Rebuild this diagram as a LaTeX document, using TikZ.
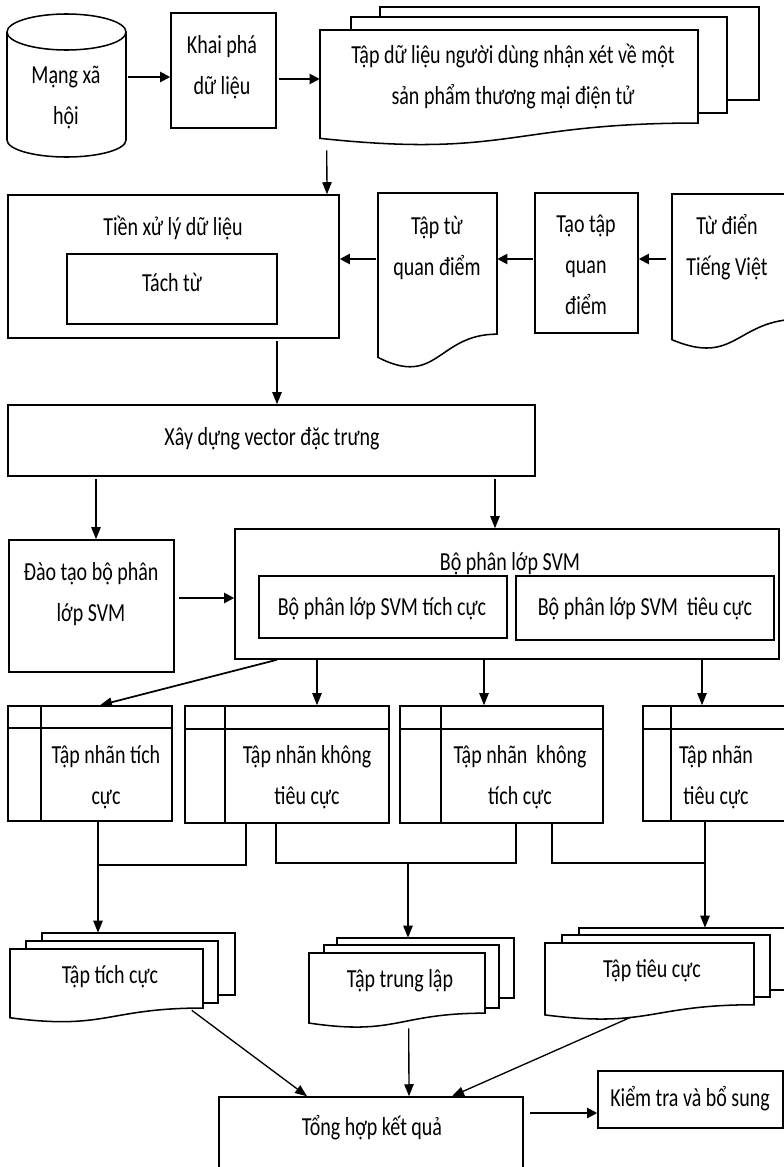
\documentclass[tikz,border=0pt]{standalone}
\usepackage{fontspec}
\setmainfont{Carlito}
\usepackage{graphicx}
\usetikzlibrary{arrows.meta,calc,fit}
\newcommand{\vt}[1]{\scalebox{1}[1.3]{\begin{tabular}{@{}c@{}}#1\end{tabular}}}
\newcommand{\docpath}[4]{(#1,#3) -- (#2,#3) -- (#2,{#3+0.802*#4}) .. controls ({(#1+#2)/2},{#3+0.802*#4}) and ({(#1+#2)/2},{#3+1.1075*#4}) .. (#1,{#3+0.934*#4}) -- cycle}
\tikzset{
 box/.style={draw, line width=1.15pt, fill=white, inner sep=0pt},
 ghost/.style={inner sep=0pt},
 shp/.style={draw, line width=1.15pt, fill=white},
 txt/.style={inner sep=0pt, font=\fontsize{15}{23.6}\selectfont},
 arr/.style={line width=1pt, -{Triangle[length=9pt,width=7pt]}},
 arrT/.style={line width=1.5pt, -{Triangle[length=7.5pt,width=7.5pt]}},
 ln/.style={line width=1pt},
}
\begin{document}
\begin{tikzpicture}[x=0.75pt,y=-0.75pt]
\useasboundingbox (0,0) rectangle (784,1167);
\clip (0,0) rectangle (784,1167);
\fill[white] (0,0) rectangle (784,1167);

% cylinder
\path[shp] (7,32) -- (7,140) arc[start angle=180, end angle=0, x radius=59.5, y radius=17] -- (126,32) arc[start angle=0, end angle=-180, x radius=59.5, y radius=18] -- cycle;
\draw[line width=1.15pt] (7,32) arc[start angle=180, end angle=0, x radius=59.5, y radius=18];
\node[ghost, fit={(7,14)(126,157)}] (db) {};

% top boxes
\node[box, fit={(171,13)(276,128)}] (khai) {};
\draw[shp] (380,7) rectangle (759,100);
\draw[shp] (351,17) rectangle (727,113);
\draw[shp] \docpath{320}{698}{30}{116};
\node[ghost, fit={(320,7)(759,140)}] (datadoc) {};

% second row
\node[box, fit={(8,195)(339,338)}] (tienxl) {};
\node[box, fit={(67,254)(277,324)}] (tachtu) {};
\draw[shp] \docpath{378}{497}{193}{176};
\node[ghost, fit={(378,193)(497,357)}] (taptu) {};
\node[box, fit={(535,193)(638,333)}] (taotap) {};
\draw[shp] \docpath{672}{800}{194}{156};
\node[ghost, fit={(672,194)(800,340)}] (tudien) {};

\node[box, fit={(8,405)(535,476)}] (xay) {};

\node[box, fit={(9,540)(174,672)}] (dao) {};
\node[box, fit={(235,529)(779,659)}] (svm) {};
\node[box, fit={(259,576)(507,638)}] (svm1) {};
\node[box, fit={(516,576)(774,640)}] (svm2) {};

% tables
\node[box, fit={(8,706)(172,821)}] (t1) {};
\draw[ln] (8,728) -- (172,728) (41,706) -- (41,821);
\node[box, fit={(185,706)(389,823)}] (t2) {};
\draw[ln] (185,729) -- (389,729) (225,706) -- (225,823);
\node[box, fit={(400,706)(603,823)}] (t3) {};
\draw[ln] (400,729) -- (603,729) (441,706) -- (441,823);
\node[box, fit={(643,706)(795,821)}] (t4) {};
\draw[ln] (643,729) -- (795,729) (671,706) -- (671,821);

% stacks
\draw[shp] (42,933) rectangle (235,995);
\draw[shp] (26,941) rectangle (218,1003);
\draw[shp] \docpath{10}{203}{949}{73.6};
\node[ghost, fit={(10,933)(235,1018)}] (s1) {};
\draw[shp] (337,938) rectangle (514,998);
\draw[shp] (324,945) rectangle (499,1008);
\draw[shp] \docpath{309}{485}{953}{75};
\node[ghost, fit={(309,938)(514,1023)}] (s2) {};
\draw[shp] (579,928) rectangle (795,990);
\draw[shp] (562,935) rectangle (770,997);
\draw[shp] \docpath{545}{754}{943}{77};
\node[ghost, fit={(545,928)(795,1015)}] (s3) {};

\node[box, fit={(219,1097)(523,1185)}] (tong) {};
\node[box, fit={(598,1071)(783,1128)}] (kiem) {};

% texts
\node[txt] (l_db) at (66,96) {\vt{Mạng xã\\hội}};
\node[txt] (l_khai) at (222,65.5) {\vt{Khai phá\\dữ liệu}};
\node[txt] (l_data) at (513,76) {\vt{Tập dữ liệu người dùng nhận xét về một\\sản phẩm thương mại điện tử}};
\node[txt] (l_tien) at (173,227) {\vt{Tiền xử lý dữ liệu}};
\node[txt] (l_tach) at (172,283) {\vt{Tách từ}};
\node[txt] (l_taptu) at (437,246.5) {\vt{Tập từ\\quan điểm}};
\node[txt] (l_taotap) at (586,265) {\vt{Tạo tập\\quan\\điểm}};
\node[txt] (l_tudien) at (727,246.5) {\vt{Từ điển\\Tiếng Việt}};
\node[txt] (l_xay) at (272,437) {\vt{Xây dựng vector đặc trưng}};
\node[txt] (l_dao) at (91,592.5) {\vt{Đào tạo bộ phân\\lớp SVM}};
\node[txt] (l_svm) at (510,562) {\vt{Bộ phân lớp SVM}};
\node[txt] (l_svm1) at (382,607) {\vt{Bộ phân lớp SVM tích cực}};
\node[txt] (l_svm2) at (645,607) {\vt{Bộ phân lớp SVM\ \ tiêu cực}};
\node[txt] (l_t1) at (106,776) {\vt{Tập nhãn tích\\cực}};
\node[txt] (l_t2) at (307,776) {\vt{Tập nhãn không\\tiêu cực}};
\node[txt] (l_t3) at (520,776) {\vt{Tập nhãn\ \ không\\tích cực}};
\node[txt] (l_t4) at (716,776) {\vt{Tập nhãn\\tiêu cực}};
\node[txt] (l_s1) at (110,975) {\vt{Tập tích cực}};
\node[txt] (l_s2) at (400,979) {\vt{Tập trung lập}};
\node[txt] (l_s3) at (652,969) {\vt{Tập tiêu cực}};
\node[txt] (l_tong) at (372,1127) {\vt{Tổng hợp kết quả}};
\node[txt] (l_kiem) at (690,1098) {\vt{Kiểm tra và bổ sung}};

% connectors
\draw[arrT, shorten <=1.5pt] (db.east |- 0,77) -- (khai.west |- 0,77);
\draw[arrT, shorten <=1.5pt] (khai.east |- 0,79) -- (datadoc.west |- 0,79);
\draw[arr] ($(datadoc.south west)+(7,10)$) -- (tienxl.north -| 327,0);
\draw[arrT, shorten <=1pt] (taptu.west |- 0,259) -- (tienxl.east |- 0,259);
\draw[arrT, shorten <=1pt] (taotap.west |- 0,259) -- (taptu.east |- 0,259);
\draw[arrT, shorten <=4pt] (tudien.west |- 0,259) -- (taotap.east |- 0,259);
\draw[arr, shorten <=1.5pt] (tienxl.south -| 277,0) -- (xay.north -| 277,0);
\draw[arr, shorten <=2pt] (xay.south -| 96,0) -- (dao.north -| 96,0);
\draw[arr, shorten <=2pt] (xay.south -| 495,0) -- (svm.north -| 495,0);
\draw[arrT, shorten <=3pt] (dao.east |- 0,598) -- (svm.west |- 0,598);
\draw[arr, line width=1.3pt] (svm.south -| 277,0) -- (t1.north -| 100,0);
\draw[arr] (svm.south -| 317,0) -- (t2.north -| 317,0);
\draw[arr] (svm.south -| 484,0) -- (t3.north -| 484,0);
\draw[arr] (svm.south -| 702,0) -- (t4.north -| 702,0);
\draw[arr] (t1.south -| 98,0) -- (s1.north -| 98,0);
\draw[ln] (t2.south -| 246,0) |- (98,865);
\coordinate (j2) at (408,863);
\draw[ln] (t2.south -| 276,0) |- (j2) -- (516,863) -- (t3.south -| 516,0);
\draw[arr] (j2) -- (s2.north -| 408,0);
\draw[ln] (t3.south -| 552,0) |- (705,863);
\draw[arr] (t4.south -| 705,0) -- (s3.north -| 705,0);
\draw[arr] ($(s1.south west)+(182,-8)$) -- (tong.north -| 307,0);
\draw[arr] ($(s2.south west)+(100,5)$) -- (tong.north -| 409,0);
\draw[arr] ($(s3.south west)+(86,2)$) -- (tong.north -| 452,0);
\draw[arrT, shorten <=5pt] (tong.east |- 0,1113) -- (kiem.west |- 0,1113);
\end{tikzpicture}
\end{document}
